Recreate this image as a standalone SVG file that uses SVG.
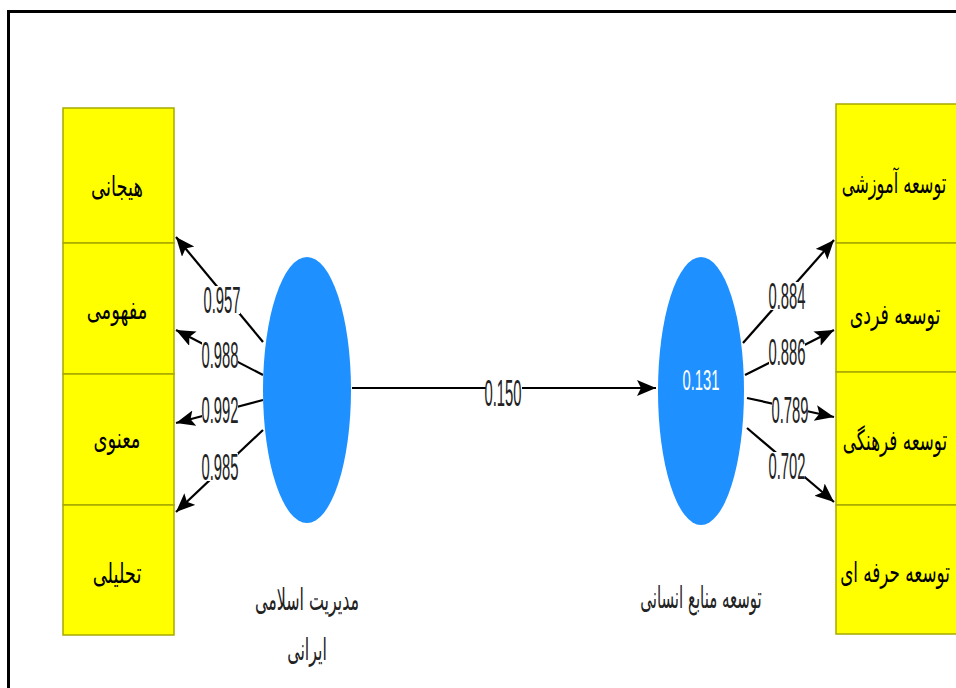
<svg xmlns="http://www.w3.org/2000/svg" width="956" height="688" viewBox="0 0 956 688">
<style>
.box{fill:#ffff00;stroke:#a8a800;stroke-width:1.5}
.lv{fill:#1e90ff}
.ln{stroke:#000;stroke-width:2.2;fill:none;marker-end:url(#ah)}
.num{font-family:"Liberation Sans",Arial,sans-serif;font-size:37px;fill:#222;text-anchor:middle}
.fa{font-family:"DejaVu Sans","Noto Sans",sans-serif;font-size:28px;fill:#000;text-anchor:middle}
.fa2{font-family:"DejaVu Sans","Noto Sans",sans-serif;font-size:30px;fill:#222;text-anchor:middle}
.bg{fill:#fff}
</style>
<defs>
<marker id="ah" markerUnits="userSpaceOnUse" markerWidth="22" markerHeight="18" refX="19" refY="8" orient="auto">
<path d="M0,0 L19,8 L0,16 L4,8 z" fill="#000"/>
</marker>
</defs>
<rect x="0" y="0" width="956" height="688" fill="#fff"/>
<rect x="8.5" y="11.5" width="960" height="700" fill="none" stroke="#000" stroke-width="3"/>

<g id="connectors">
<line class="ln" x1="352" y1="388" x2="656" y2="388"/>
<line class="ln" x1="263" y1="342" x2="176" y2="237"/>
<line class="ln" x1="263" y1="375" x2="176" y2="330"/>
<line class="ln" x1="263" y1="400" x2="176" y2="423"/>
<line class="ln" x1="263" y1="430" x2="176" y2="512"/>
<line class="ln" x1="743" y1="343" x2="834" y2="240"/>
<line class="ln" x1="745" y1="375" x2="834" y2="330"/>
<line class="ln" x1="747" y1="398" x2="834" y2="417"/>
<line class="ln" x1="747" y1="428" x2="834" y2="502"/>
<rect class="bg" x="486" y="376" width="36" height="28"/>
<text class="num" transform="translate(503,406) scale(0.4,1)">0.150</text>
<rect class="bg" x="204" y="286" width="36" height="28"/>
<text class="num" transform="translate(222,313) scale(0.4,1)">0.957</text>
<rect class="bg" x="202" y="341" width="36" height="28"/>
<text class="num" transform="translate(220,368) scale(0.4,1)">0.988</text>
<rect class="bg" x="202" y="396" width="36" height="28"/>
<text class="num" transform="translate(220,423) scale(0.4,1)">0.992</text>
<rect class="bg" x="202" y="453" width="36" height="28"/>
<text class="num" transform="translate(220,480) scale(0.4,1)">0.985</text>
<rect class="bg" x="769" y="282" width="36" height="28"/>
<text class="num" transform="translate(787,309) scale(0.4,1)">0.884</text>
<rect class="bg" x="769" y="338" width="36" height="28"/>
<text class="num" transform="translate(787,365) scale(0.4,1)">0.886</text>
<rect class="bg" x="772" y="396" width="36" height="28"/>
<text class="num" transform="translate(790,423) scale(0.4,1)">0.789</text>
<rect class="bg" x="769" y="452" width="36" height="28"/>
<text class="num" transform="translate(787,479) scale(0.4,1)">0.702</text>
</g>

<g id="lv-islamic">
<ellipse class="lv" cx="307" cy="390" rx="44" ry="133"/>
<text class="fa2" transform="translate(307,610) scale(0.53,1)">مدیریت اسلامی</text>
<text class="fa2" transform="translate(307,660) scale(0.53,1)">ایرانی</text>
</g>

<g id="lv-hrd">
<ellipse class="lv" cx="701" cy="391" rx="43" ry="134"/>
<text class="num" transform="translate(701,390) scale(0.4,0.8)" style="fill:#fff">0.131</text>
<text class="fa2" transform="translate(701,608) scale(0.5,1)">توسعه منابع انسانی</text>
</g>

<g id="ind-left-1"><rect class="box" x="63" y="108" width="111" height="135"/><text class="fa" transform="translate(117,196) scale(0.64,1)">هیجانی</text></g>
<g id="ind-left-2"><rect class="box" x="63" y="243" width="111" height="131"/><text class="fa" transform="translate(117,319) scale(0.64,1)">مفهومی</text></g>
<g id="ind-left-3"><rect class="box" x="63" y="374" width="111" height="131"/><text class="fa" transform="translate(117,448) scale(0.64,1)">معنوی</text></g>
<g id="ind-left-4"><rect class="box" x="63" y="505" width="111" height="130"/><text class="fa" transform="translate(117,583) scale(0.64,1)">تحلیلی</text></g>

<g id="ind-right-1"><rect class="box" x="836" y="104" width="130" height="139"/><text class="fa" transform="translate(894,193) scale(0.58,1)">توسعه آموزشی</text></g>
<g id="ind-right-2"><rect class="box" x="836" y="243" width="130" height="129"/><text class="fa" transform="translate(895,324) scale(0.62,1)">توسعه فردی</text></g>
<g id="ind-right-3"><rect class="box" x="836" y="372" width="130" height="133"/><text class="fa" transform="translate(895,450) scale(0.6,1)">توسعه فرهنگی</text></g>
<g id="ind-right-4"><rect class="box" x="836" y="505" width="130" height="129"/><text class="fa" transform="translate(895,582) scale(0.6,1)">توسعه حرفه ای</text></g>
</svg>
